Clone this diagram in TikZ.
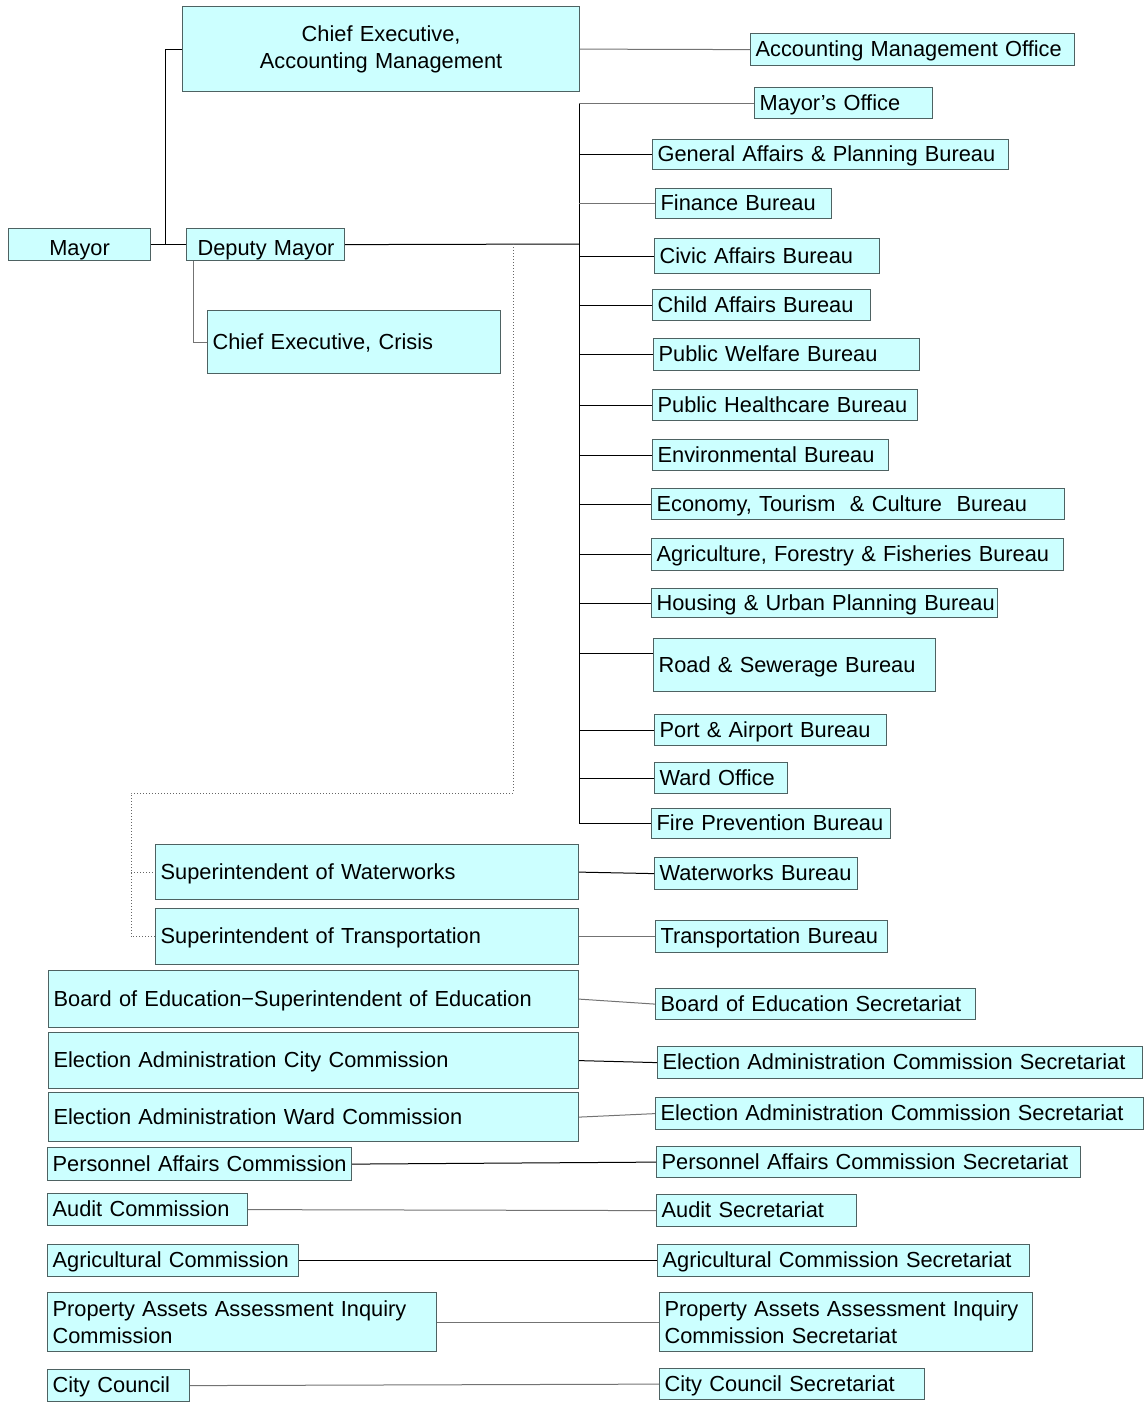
\documentclass[tikz,border=0pt]{standalone}
\usepackage{fontspec}
\setmainfont{Liberation Sans}
\definecolor{boxfill}{HTML}{CCFFFF}
\definecolor{boxedge}{HTML}{4E6262}

\begin{document}
\begin{tikzpicture}[x=0.5pt,y=-0.5pt,
	unit/.style={draw=boxedge,fill=boxfill,line width=0.6pt,anchor=north west,inner xsep=2.5pt,inner ysep=0pt,align=left,font=\fontsize{10.9}{13.3}\selectfont},
	oneline/.style={unit,text height=9.2pt,text depth=2.2pt},
	link/.style={line width=0.5pt},
	greylink/.style={line width=0.5pt,draw=black!55},
	dotlink/.style={line width=0.5pt,draw=black!60,densely dotted}]
\useasboundingbox (0,0) rectangle (1144,1405);

\node[unit,align=center,text width=66pt,minimum height=16pt,text height=12pt,text depth=1pt] (mayor) at (8,228) {Mayor};
\node[unit,align=center,text width=193.5pt,minimum height=42.5pt] (ceacc) at (182,6) {Chief Executive,\\Accounting Management};
\node[unit,text width=189.5pt,minimum height=29.5pt] (property) at (47,1292) {Property Assets Assessment Inquiry\\Commission};
\node[unit,text width=181.5pt,minimum height=29.5pt] (propsec) at (659,1292) {Property Assets Assessment Inquiry\\Commission Secretariat};
\node[unit,inner xsep=5.5pt,text width=68pt,minimum height=16pt,text height=12pt,text depth=1pt] (deputy) at (186,228) {\mbox{Deputy Mayor}};
\foreach \n/\x/\y/\w/\h/\t in {
	crisis/207/310/293/63/{Chief Executive, Crisis},
	supwater/155/844/423/55/{Superintendent of Waterworks},
	suptrans/155/908/423/56/{Superintendent of Transportation},
	boe/48/970/530/57/{Board of Education−Superintendent of Education},
	elecity/48/1032/530/56/{Election Administration City Commission},
	eleward/48/1092/530/49/{Election Administration Ward Commission},
	personnel/47/1147/304/33/{Personnel Affairs Commission},
	audit/47/1193/200/32/{Audit Commission},
	agri/47/1244/251/32/{Agricultural Commission},
	council/47/1369/142/32/{City Council}} {
	\pgfmathsetmacro\tw{\w*0.5-5}
	\node[oneline,text width=\tw pt,minimum height=\h*0.5pt] (\n) at (\x,\y) {\mbox{\t}};
}
\foreach \n/\x/\y/\w/\h/\t in {
	accoffice/750/33/324/32/{Accounting Management Office},
	mayoroffice/754/87/178/31/{Mayor’s Office},
	general/652/139/356/30/{General Affairs \& Planning Bureau},
	finance/655/188/176/30/{Finance Bureau},
	civic/654/238/225/35/{Civic Affairs Bureau},
	child/652/289/218/31/{Child Affairs Bureau},
	welfare/653/338/266/32/{Public Welfare Bureau},
	health/652/389/265/31/{Public Healthcare Bureau},
	environ/652/439/236/31/{Environmental Bureau},
	economy/651/488/413/31/{Economy,\ Tourism\ \ \&\ Culture\ \ Bureau},
	agriforest/651/538/412/32/{Agriculture, Forestry \& Fisheries Bureau},
	housing/651/588/346/29/{Housing \& Urban Planning Bureau},
	road/653/638/282/53/{Road \& Sewerage Bureau},
	port/654/714/232/31/{Port \& Airport Bureau},
	ward/654/762/133/31/{Ward Office},
	fire/651/808/239/30/{Fire Prevention Bureau},
	waterbur/654/857/203/32/{Waterworks Bureau},
	transbur/655/920/232/32/{Transportation Bureau},
	boesec/655/988/320/31/{Board of Education Secretariat},
	elecsec/657/1046/485/32/{Election Administration Commission Secretariat},
	wardsec/655/1097/488/32/{Election Administration Commission Secretariat},
	perssec/656/1146/424/31/{Personnel Affairs Commission Secretariat},
	auditsec/656/1194/200/32/{Audit Secretariat},
	agrisec/657/1244/372/32/{Agricultural Commission Secretariat},
	councilsec/659/1368/265/31/{City Council Secretariat}} {
	\pgfmathsetmacro\tw{\w*0.5-5}
	\node[oneline,text width=\tw pt,minimum height=\h*0.5pt] (\n) at (\x,\y) {\mbox{\t}};
}

\coordinate (fork) at (165,244);
\coordinate (trunk) at (579,244);
\coordinate (tap) at (513,244);
\coordinate (bend) at (131,793);

\draw[link] (mayor.east) -- (deputy.west);
\draw[link] (fork) |- (ceacc.west);
\draw[greylink] (ceacc.east) -- (accoffice.west);
\draw[link] (deputy.east) -- (trunk);
\draw[link] (trunk |- mayoroffice.west) -- (trunk |- fire.west);
\draw[greylink] ([xshift=3.5pt]deputy.south west) |- (crisis.west);
\draw[greylink] (trunk |- mayoroffice.west) -- (mayoroffice.west);
\draw[greylink] (trunk |- finance.west) -- (finance.west);
\foreach \n in {general,civic,child,welfare,health,environ,economy,agriforest,housing,port,ward,fire}
	\draw[link] (trunk |- \n.west) -- (\n.west);
\draw[link] (trunk |- road.north west) ++(0,15) -- ([yshift=-7.5pt]road.north west);

\draw[dotlink] (tap) |- (bend) |- (suptrans.west);
\draw[dotlink] (bend |- supwater.west) -- (supwater.west);

\foreach \a/\b in {supwater/waterbur,elecity/elecsec,personnel/perssec,agri/agrisec}
	\draw[link] (\a.east) -- (\b.west);
\foreach \a/\b in {suptrans/transbur,boe/boesec,eleward/wardsec,audit/auditsec,property/propsec,council/councilsec}
	\draw[greylink] (\a.east) -- (\b.west);
\end{tikzpicture}
\end{document}
